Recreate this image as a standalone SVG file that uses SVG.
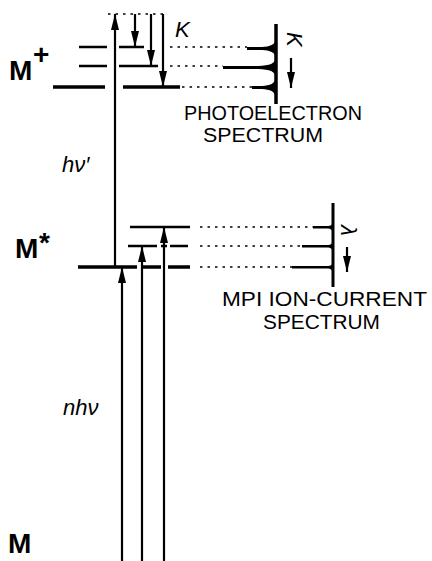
<svg xmlns="http://www.w3.org/2000/svg" width="432" height="561" viewBox="0 0 432 561">
<style>
.lv{stroke:#000;stroke-width:2.3;fill:none}
.lvt{stroke:#000;stroke-width:3.6;fill:none}
.ar{stroke:#000;stroke-width:2.2;fill:none}
.dot{stroke:#000;stroke-width:1.6;fill:none;stroke-dasharray:2.5 5}
.lbl{font-family:"Liberation Sans",Arial,sans-serif;font-size:28px;font-weight:bold;fill:#000}
.it{font-family:"Liberation Sans",Arial,sans-serif;font-style:italic;font-size:22px;fill:#000}
.cap{font-family:"Liberation Sans",Arial,sans-serif;font-size:20px;fill:#000}
.pk{fill:#000}
</style>
<defs>
<marker id="ah" viewBox="0 0 16 8" refX="16" refY="4" markerWidth="16" markerHeight="8" markerUnits="userSpaceOnUse" orient="auto">
<path d="M0,0 L16,4 L0,8 Z" fill="#000"/>
</marker>
</defs>
<rect width="432" height="561" fill="#fff"/>

<g id="M-ground"><text class="lbl" x="8" y="553">M</text></g>

<g id="M-star">
<text class="lbl" x="15" y="258">M</text>
<text class="lbl" x="39" y="252" font-size="20">*</text>
<path class="lvt" d="M78,267 H137 M143,267 H161 M168,267 H190"/>
<path class="lv" d="M128,246 H157 M161,246 H167 M170,246 H188"/>
<path class="lv" d="M130,227 H190"/>
</g>

<g id="M-plus">
<text class="lbl" x="9" y="80">M</text>
<text class="lbl" x="33" y="64" font-size="20">+</text>
<path class="lv" d="M79,47 H107 M119,47 H144"/>
<path class="lv" d="M79,66 H107 M119,66 H158"/>
<path class="lvt" d="M53,87 H105 M123,87 H180"/>
<path class="dot" d="M108,14 H168"/>
<text class="it" x="175" y="37">K</text>
</g>

<g id="pe-spectrum">
<path d="M276,24 V104" stroke="#000" stroke-width="3.5" fill="none"/>
<path class="pk" d="M276,39 C275,45 270,46.5 262,47 L247,47 L247,50 L262,50 C270,50.5 275,52 276,58 Z"/>
<path class="pk" d="M276,57 C275,64 270,65.5 258,66 L223,66 L223,69 L258,69 C270,69.5 275,71 276,78 Z"/>
<path class="pk" d="M276,77 C275,84 270,85.5 262,86 L252,86 L252,89 L262,89 C270,89.5 275,91 276,98 Z"/>
<text class="it" transform="translate(287,32) rotate(90)" font-size="20">K</text>
<path class="ar" d="M291,58 V88" marker-end="url(#ah)"/>
<text class="cap" x="184" y="120" textLength="178" lengthAdjust="spacingAndGlyphs">PHOTOELECTRON</text>
<text class="cap" x="203" y="142" textLength="120" lengthAdjust="spacingAndGlyphs">SPECTRUM</text>
</g>

<g id="mpi-spectrum">
<path d="M333,203 V287" stroke="#000" stroke-width="3" fill="none"/>
<path class="pk" d="M333,221 C332.5,225 331,226 327,226 L313,226 L313,228.5 L327,228.5 C331,228.5 332.5,230 333,233 Z"/>
<path class="pk" d="M333,240 C332.5,244 331,245 327,245 L302,245 L302,247.5 L327,247.5 C331,247.5 332.5,249 333,252 Z"/>
<path class="pk" d="M333,261 C332.5,265 331,266 327,266 L292,266 L292,268.5 L327,268.5 C331,268.5 332.5,270 333,273 Z"/>
<text class="it" transform="translate(341,225) rotate(90)" font-size="20">λ</text>
<path class="ar" d="M347,247 V272" marker-end="url(#ah)"/>
<text class="cap" x="222" y="306" textLength="205" lengthAdjust="spacingAndGlyphs">MPI ION-CURRENT</text>
<text class="cap" x="263" y="329" textLength="117" lengthAdjust="spacingAndGlyphs">SPECTRUM</text>
</g>

<g id="photon-labels">
<text class="it" x="62" y="172">hν′</text>
<text class="it" x="63" y="415">nhν</text>
</g>

<g id="connectors">
<path class="ar" d="M115,267 V14" marker-end="url(#ah)"/>
<path class="ar" d="M135,14 V47" marker-end="url(#ah)"/>
<path class="ar" d="M151,14 V66" marker-end="url(#ah)"/>
<path class="ar" d="M163,14 V87" marker-end="url(#ah)"/>
<path class="ar" d="M122,561 V267" marker-end="url(#ah)"/>
<path class="ar" d="M142,561 V246" marker-end="url(#ah)"/>
<path class="ar" d="M164,561 V227" marker-end="url(#ah)"/>
<path class="dot" d="M170,47 H247 M170,66 H223 M182,87 H252"/>
<path class="dot" d="M200,227 H313 M200,246 H302 M200,267 H292"/>
</g>
</svg>
